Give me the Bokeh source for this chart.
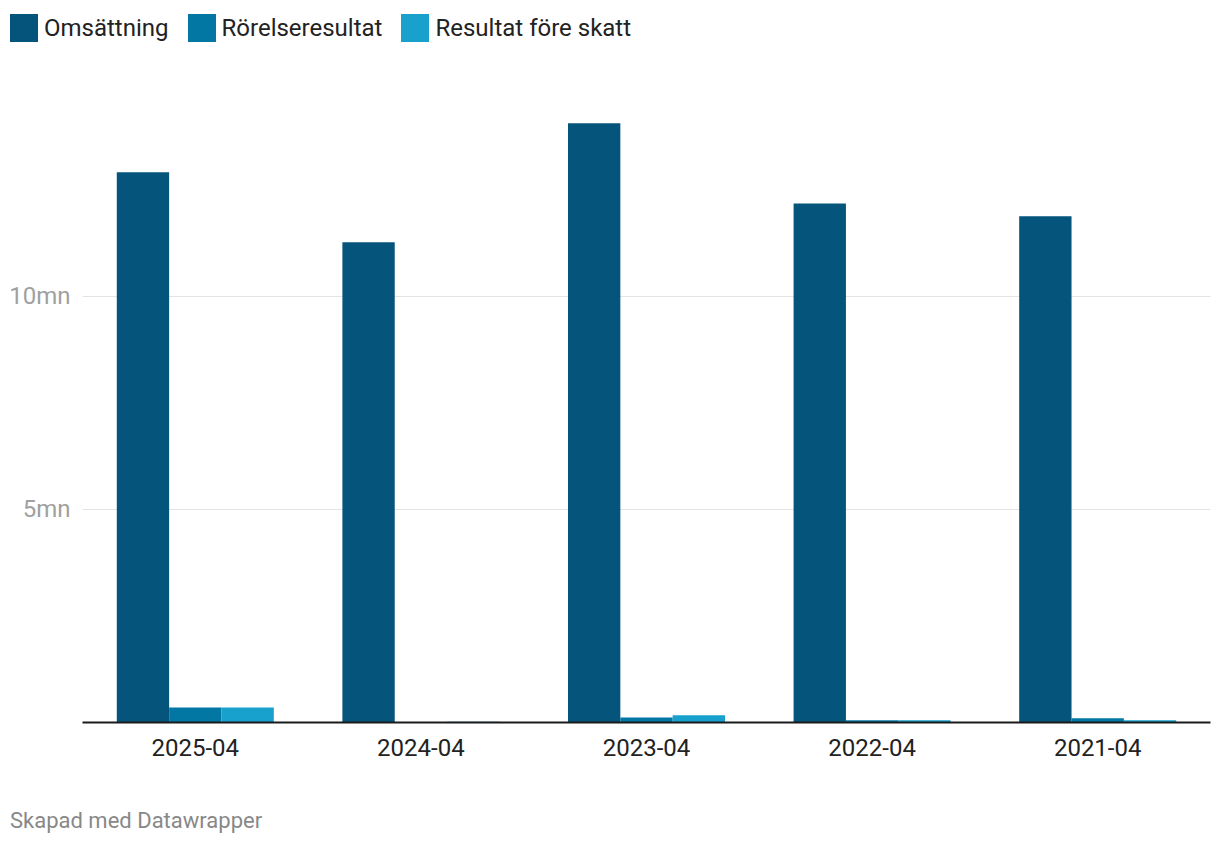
from bokeh.plotting import figure
from bokeh.models import FactorRange, Range1d, FixedTicker, ColumnDataSource, Div
from bokeh.layouts import column
from bokeh.transform import dodge
from bokeh.embed import file_html
from bokeh.resources import INLINE

years = ["2025-04", "2024-04", "2023-04", "2022-04", "2021-04"]
series = ["Omsättning", "Rörelseresultat", "Resultat före skatt"]
omsattning = [12_910_000, 11_270_000, 14_060_000, 12_180_000, 11_880_000]
rorelseresultat = [350_000, 5_000, 120_000, 50_000, 100_000]
resultat_fore_skatt = [350_000, 20_000, 170_000, 50_000, 50_000]
colors = ["#04547c", "#0277a4", "#19a1cd"]
y_ticks = [5_000_000, 10_000_000]
y_tick_labels = ["5mn", "10mn"]
footer = "Skapad med Datawrapper"

FONT = "Roboto"
Y_MAX = 15_300_000
W = 1212
LEG_H = 56
FOOT_H = 54

src = ColumnDataSource(dict(years=years, s0=omsattning, s1=rorelseresultat, s2=resultat_fore_skatt))

# ---- legend (HTML strip) ----
items_html = "".join(
    f'<span style="display:inline-block;width:28px;height:28px;background:{c};margin-right:6px;"></span>'
    f'<span style="margin-right:19px;">{s}</span>'
    for s, c in zip(series, colors)
)
legend_div = Div(
    text=f'<div style="display:flex;align-items:center;padding:14px 0 0 10px;font-family:Roboto;'
         f'font-size:24px;line-height:28px;color:#222222;white-space:nowrap;">{items_html}</div>',
    width=W, height=LEG_H, margin=0,
)

# ---- main chart ----
p = figure(
    width=W, height=14 + 652 + 60,
    x_range=FactorRange(*years, range_padding=0),
    y_range=Range1d(0, Y_MAX),
    output_backend="svg", toolbar_location=None,
    min_border_left=82, min_border_right=2, min_border_top=14, min_border_bottom=60,
    outline_line_color=None, margin=0,
)

bw = 0.232
for i, key in enumerate(["s0", "s1", "s2"]):
    p.vbar(x=dodge("years", (i - 1) * bw, range=p.x_range), top=key, bottom=0,
           width=bw, source=src, fill_color=colors[i], line_color=None)

p.xaxis.axis_line_color = "#1a1a1a"
p.xaxis.axis_line_width = 2
p.xaxis.major_tick_line_color = None
p.xaxis.minor_tick_line_color = None
p.xaxis.major_label_text_font = FONT
p.xaxis.major_label_text_font_size = "24px"
p.xaxis.major_label_text_color = "#222222"
p.xaxis.major_label_standoff = 10
p.xgrid.grid_line_color = None

p.yaxis.ticker = FixedTicker(ticks=y_ticks)
p.yaxis.major_label_overrides = {t: l for t, l in zip(y_ticks, y_tick_labels)}
p.yaxis.axis_line_color = None
p.yaxis.major_tick_line_color = None
p.yaxis.minor_tick_line_color = None
p.yaxis.major_label_text_font = FONT
p.yaxis.major_label_text_font_size = "24px"
p.yaxis.major_label_text_color = "#a0a0a0"
p.yaxis.major_label_standoff = 6
p.ygrid.ticker = FixedTicker(ticks=y_ticks)
p.ygrid.grid_line_color = "#e3e3e3"
p.ygrid.grid_line_width = 1

# ---- footer ----
footer_div = Div(
    text=f'<div style="padding:26px 0 0 10px;font-family:Roboto;font-size:22px;line-height:25px;'
         f'color:#888888;white-space:nowrap;">{footer}</div>',
    width=W, height=FOOT_H, margin=0,
)

layout = column(legend_div, p, footer_div, spacing=0)
open("out.html", "w").write(file_html(layout, INLINE))
